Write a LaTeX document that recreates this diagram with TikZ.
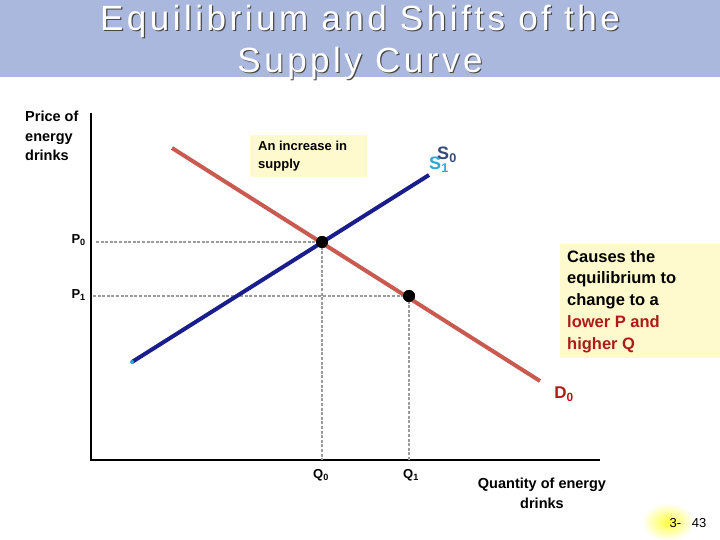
\documentclass[tikz,border=0pt]{standalone}
\usepackage{fontspec}
\setmainfont{Liberation Sans}
\newfontfamily\titlefont[LetterSpace=10]{Liberation Sans}
\definecolor{hdr}{RGB}{170,184,222}
\definecolor{demand}{RGB}{200,90,80}
\definecolor{supply}{RGB}{25,30,140}
\definecolor{boxy}{RGB}{255,250,205}
\definecolor{redtxt}{RGB}{175,25,25}
\definecolor{szero}{RGB}{50,75,120}
\definecolor{sone}{RGB}{50,165,215}
\definecolor{dotg}{RGB}{155,155,155}
\tikzset{
  axis/.style={line width=1.3pt,black},
  guide/.style={dotg,line width=2.6pt,dash pattern=on 3pt off 1.6pt},
  dot/.style={circle,fill=black,inner sep=0pt,minimum size=12pt},
  lab/.style={font=\fontsize{13}{15}\selectfont\bfseries},
}
\begin{document}
\begin{tikzpicture}[x=1pt,y=-1pt]
\useasboundingbox (0,0) rectangle (720,540);
\fill[hdr] (0,0) rectangle (720,77);
\foreach \t/\yy in {{Equilibrium and Shifts of the}/21,{Supply Curve}/63}{
  \node[gray!55!black] at (361.2,\yy+1.2) {\titlefont\fontsize{35}{38}\selectfont \t};
  \node[white] (t\yy) at (360,\yy) {\titlefont\fontsize{35}{38}\selectfont \t};
}
% axes
\coordinate (o) at (91,460);
\coordinate (ytop) at (91,113);
\coordinate (xend) at (600,460);
\draw[axis] (ytop) -- (o) -- (xend);
% equilibrium points
\node[dot] (e0) at (322,242) {};
\node[dot] (e1) at (409,296) {};
\coordinate (p0) at (96,242);
\coordinate (p1) at (93,296);
\coordinate (q0) at (322,460);
\coordinate (q1) at (409,460);
\draw[guide] (p0) -- (e0.center);
\draw[guide] (p1) -- (e1.center);
\draw[guide] (e0.center) -- (q0);
\draw[guide] (e1.center) -- (q1);
% curves
\coordinate (ds) at (172,148);
\coordinate (de) at (540,381);
\coordinate (ss) at (132,362);
\coordinate (se) at (429,175);
\draw[demand,line width=4pt] (ds) -- (de);
\draw[supply,line width=4pt] (ss) -- (se);
\fill[sone] (ss) circle (2);
\node[dot] at (e0) {};
\node[dot] at (e1) {};
% labels
\node[anchor=north west,align=left,inner sep=0pt,font=\fontsize{14.5}{19.5}\selectfont\bfseries] (ylab) at (25,111) {Price of\\energy\\drinks};
\node[lab,anchor=east,inner sep=0pt] (lp0) at (86,240) {P\textsubscript{0}};
\node[lab,anchor=east,inner sep=0pt] (lp1) at (86,295) {P\textsubscript{1}};
\node[lab,inner sep=0pt] (lq0) at (321,475) {Q\textsubscript{0}};
\node[lab,inner sep=0pt] (lq1) at (411,475) {Q\textsubscript{1}};
\node[align=center,inner sep=0pt,font=\fontsize{14.5}{20}\selectfont\bfseries] (xlab) at (542,493) {Quantity of energy\\drinks};
\fill[boxy] (250,135) rectangle (367,177);
\node[anchor=north west,align=left,inner sep=0pt,font=\fontsize{13}{18}\selectfont\bfseries] (inc) at (258,141) {An increase in\\supply};
\fill[boxy] (560,244) rectangle (720,358);
\node[anchor=north west,align=left,inner sep=0pt,font=\fontsize{16.5}{21.8}\selectfont\bfseries] (cause) at (567,250) {Causes the\\equilibrium to\\change to a\\\textcolor{redtxt}{lower P and}\\\textcolor{redtxt}{higher Q}};
\node[sone,inner sep=0pt,font=\fontsize{18}{20}\selectfont\bfseries] (s1) at (439,165) {S\textsubscript{1}};
\node[szero,inner sep=0pt,font=\fontsize{18}{20}\selectfont\bfseries] (s0) at (447,155) {S\textsubscript{0}};
\node[redtxt,inner sep=0pt,font=\fontsize{17}{20}\selectfont\bfseries] (d0) at (564,394) {D\textsubscript{0}};
% page number
\shade[inner color=yellow!75!white,outer color=white] (668,522) ellipse (26 and 19);
\node[inner sep=0pt,font=\fontsize{13}{15}\selectfont] (pg) at (688,523) {3-\ \ \ 43};
\end{tikzpicture}
\end{document}
